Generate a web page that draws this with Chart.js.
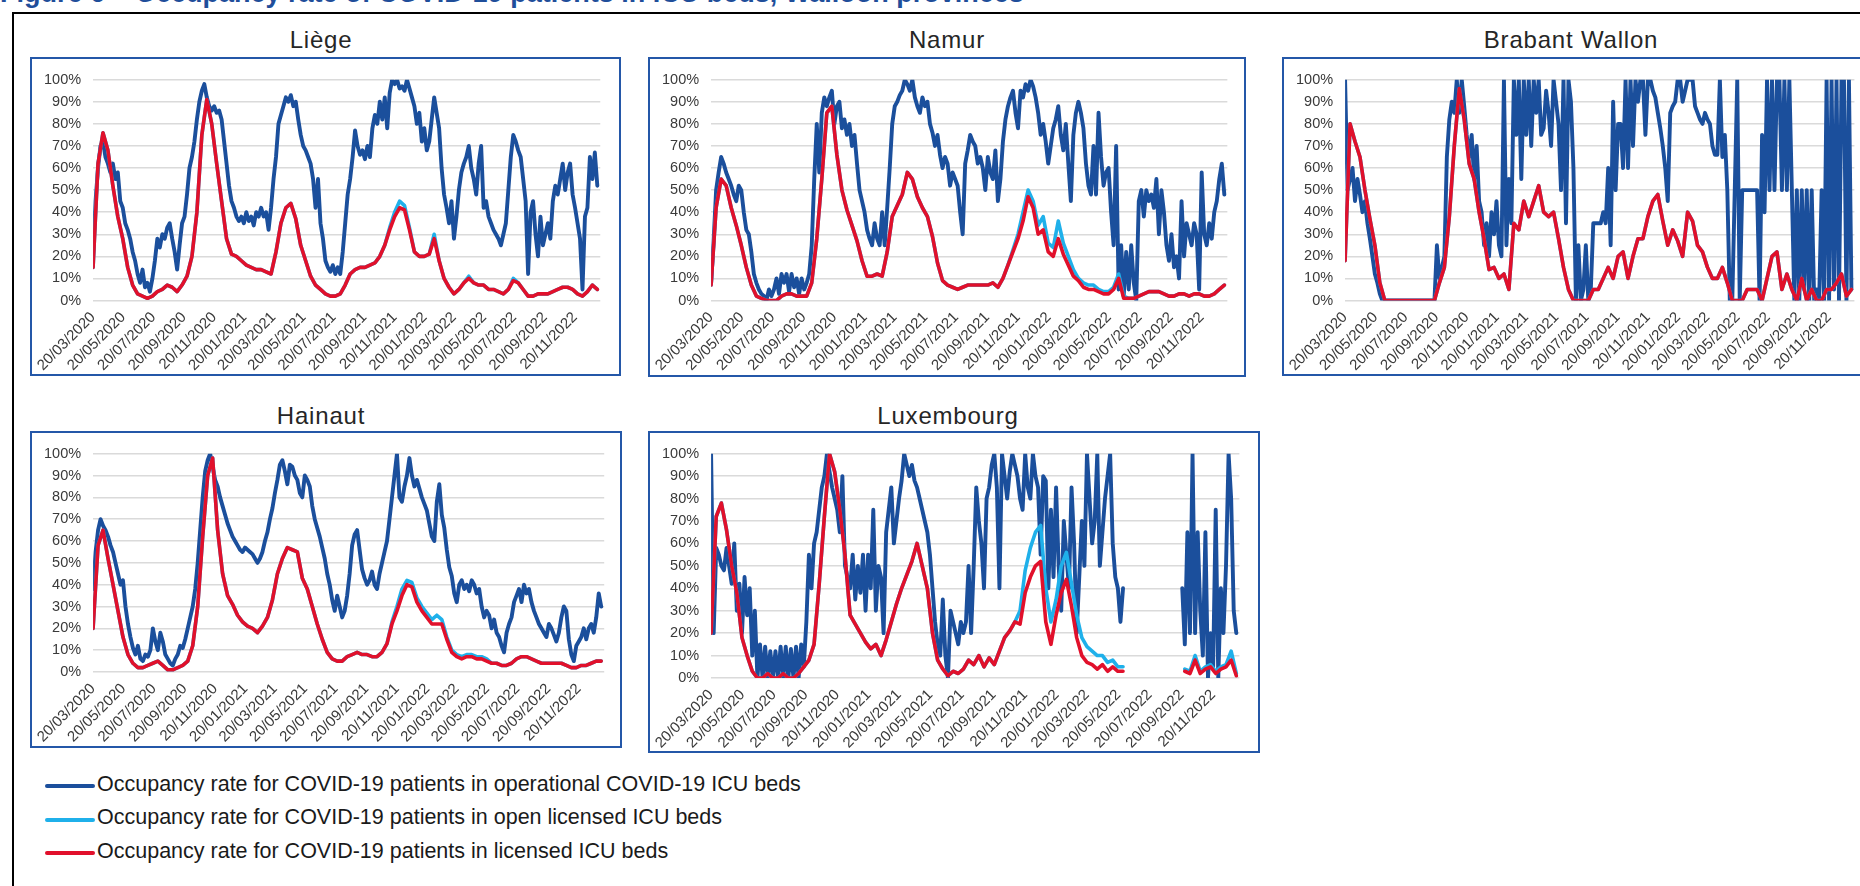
<!DOCTYPE html>
<html>
<head>
<meta charset="utf-8">
<title>Occupancy rate of COVID-19 patients in ICU beds, Walloon provinces</title>
<script src="https://cdn.jsdelivr.net/npm/chart.js@4.4.1/dist/chart.umd.min.js"></script>
<style>
  html, body { margin:0; padding:0; background:#fff; }
  body { width:1860px; height:886px; position:relative; overflow:hidden; font-family:"Liberation Sans", Arial, sans-serif; font-weight:400; }
  #figTitle { position:absolute; left:0; top:-20px; font-weight:bold; font-size:27px; line-height:27px; color:#1f4e9a; white-space:nowrap; }
  #frame { position:absolute; left:12px; top:12px; width:1900px; height:900px; border-left:2px solid #000; border-top:2px solid #000; }
  .pTitle { position:absolute; width:400px; text-align:center; font-family:"Liberation Sans", Arial, sans-serif; font-weight:400; font-size:24px; line-height:24px; letter-spacing:0.8px; color:#262626; white-space:nowrap; }
  .pBox { position:absolute; border:2px solid #2457a8; box-sizing:border-box; background:#fff; }
  .pBox canvas { position:absolute; left:0; top:0; }
  .legRow { position:absolute; left:45px; width:900px; height:30px; }
  .legLine { position:absolute; left:0; width:50px; height:4px; border-radius:2px; }
  .legText { position:absolute; left:52px; font-size:21.5px; line-height:22px; color:#1a1a1a; white-space:nowrap; font-weight:400; }
</style>
</head>
<body>
<div id="figTitle">Figure 6 – Occupancy rate of COVID-19 patients in ICU beds, Walloon provinces</div>
<div id="frame"></div>
<script>
// ---------------- DATA ----------------
const startDate = '20/03/2020';
const operationalStepDays = 5;   // blue series sampled every 5 days from startDate
const licensedStepDays = 10;     // red / light-blue series sampled every 10 days from startDate

const xTickLabels = ['20/03/2020','20/05/2020','20/07/2020','20/09/2020','20/11/2020','20/01/2021','20/03/2021','20/05/2021','20/07/2021','20/09/2021','20/11/2021','20/01/2022','20/03/2022','20/05/2022','20/07/2022','20/09/2022','20/11/2022'];

const legendLabels = [
  'Occupancy rate for COVID-19 patients in operational COVID-19 ICU beds',
  'Occupancy rate for COVID-19 patients in open licensed ICU beds',
  'Occupancy rate for COVID-19 patients in licensed ICU beds'
];

const panelTitles = ['Liège', 'Namur', 'Brabant Wallon', 'Hainaut', 'Luxembourg'];

// Liège
const liegeOperational = [
  20,45,60,70,72,65,62,58,62,55, 58,45,42,35,32,28,22,18,12,8,
  14,6,8,4,10,18,28,24,30,28, 33,35,28,22,14,25,35,38,48,60,
  65,72,82,90,95,98,92,88,86,88, 85,86,82,72,62,52,45,42,38,36,
  38,35,40,36,38,34,40,38,42,38, 40,32,42,55,65,80,84,88,92,90,
  93,88,90,82,75,70,68,65,62,55, 42,55,35,28,18,15,13,16,12,15,
  12,22,35,48,55,65,77,70,66,68, 64,70,65,78,84,80,90,82,92,78,
  94,100,98,100,96,97,95,100,96,92, 88,80,85,72,78,68,72,82,92,85,
  78,60,48,42,35,45,28,38,50,58, 62,65,70,60,55,48,62,70,42,45,
  38,35,32,30,28,25,30,35,50,65, 75,72,68,65,55,45,12,40,45,30,
  20,38,25,30,35,28,45,52,48,55, 62,50,58,62,48,42,35,28,5,38,
  42,65,55,67,52
];
const liegeOpenLicensed = [
  15,62,76,68,52,38,28,15,7,3, 2,1,2,4,5,7,6,4,7,11,
  20,40,75,91,80,62,45,28,21,20, 18,16,15,14,14,13,12,22,35,42,
  44,37,25,18,11,7,5,3,2,2, 3,7,12,14,15,15,16,17,20,25,
  33,40,45,43,33,22,20,20,21,30, 18,10,6,3,5,8,11,8,7,7,
  5,5,4,3,5,10,8,5,2,2, 3,3,3,4,5,6,6,5,3,2,
  4,7,5
];
const liegeLicensed = [
  15,62,76,68,52,38,28,15,7,3, 2,1,2,4,5,7,6,4,7,11,
  20,40,75,91,80,62,45,28,21,20, 18,16,15,14,14,13,12,22,35,42,
  44,37,25,18,11,7,5,3,2,2, 3,7,12,14,15,15,16,17,20,25,
  32,38,42,41,32,22,20,20,21,28, 18,10,6,3,5,8,10,8,7,7,
  5,5,4,3,5,9,8,5,2,2, 3,3,3,4,5,6,6,5,3,2,
  4,7,5
];

// Namur
const namurOperational = [
  8,27,50,58,65,62,58,55,52,48, 45,52,50,40,32,30,22,12,8,5,
  3,2,0,5,2,5,10,3,12,8, 12,4,12,6,10,3,10,5,8,12,
  25,55,80,58,85,92,88,92,95,80, 88,90,78,82,75,80,70,75,62,50,
  45,40,32,28,25,35,28,25,40,25, 42,60,80,88,90,93,95,100,98,95,
  100,92,88,85,92,88,90,80,76,70, 75,66,60,65,62,52,58,55,52,40,
  30,62,68,75,72,70,62,65,60,50, 65,58,55,68,45,55,72,82,88,92,
  95,85,78,95,92,98,95,100,97,92, 85,75,80,72,62,70,78,82,88,75,
  68,80,62,45,75,85,90,85,78,62, 52,48,70,48,85,65,52,58,60,40,
  25,70,5,25,2,22,5,25,8,0, 45,50,38,50,45,48,42,55,30,50,
  40,25,18,30,15,20,10,45,20,35, 30,25,35,30,5,58,30,25,35,28,
  40,45,55,62,48
];
const namurOpenLicensed = [
  7,42,55,52,42,34,25,15,7,2, 1,0,0,0,2,3,3,2,2,2,
  8,28,55,85,88,66,50,41,34,27, 18,11,11,12,11,22,38,43,48,58,
  55,47,42,38,29,17,9,7,6,5, 6,7,7,7,7,7,8,6,10,16,
  23,30,40,50,45,34,38,26,24,36, 26,20,14,10,8,7,7,5,4,4,
  6,12,2,1,1,2,3,4,4,4, 3,2,2,3,3,2,3,3,2,2,
  3,5,7
];
const namurLicensed = [
  7,42,55,52,42,34,25,15,7,2, 1,0,0,0,2,3,3,2,2,2,
  8,28,55,85,88,66,50,41,34,27, 18,11,11,12,11,22,38,43,48,58,
  55,47,42,38,29,17,9,7,6,5, 6,7,7,7,7,7,8,6,10,16,
  22,28,36,47,42,30,32,22,20,28, 21,16,11,9,6,5,5,4,3,3,
  5,10,1,1,1,2,3,4,4,4, 3,2,2,3,3,2,3,3,2,2,
  3,5,7
];

// Brabant Wallon
const brabantOperational = [
  100,50,55,60,45,55,48,40,45,35, 28,20,12,8,3,0,0,0,0,0,
  0,0,0,0,0,0,0,0,0,0, 0,0,0,0,0,0,0,25,10,15,
  20,65,82,90,85,100,85,100,88,75, 65,75,55,70,45,40,25,35,20,40,
  30,45,25,20,100,25,55,35,100,75, 100,55,100,75,100,70,100,85,100,75,
  78,95,85,70,100,90,80,50,100,35, 100,90,60,0,25,0,5,25,0,5,
  35,35,35,35,40,35,60,25,90,50, 80,80,60,100,60,100,70,100,90,100,
  100,75,100,100,95,92,85,78,70,60, 45,85,88,90,100,100,90,95,100,100,
  100,88,85,82,80,85,82,80,70,66, 66,100,65,75,50,0,0,50,100,0,
  50,50,50,50,50,50,50,0,75,40, 100,50,100,50,100,100,50,100,50,100,
  50,0,50,0,50,5,50,0,50,0, 5,0,50,0,100,0,100,5,100,0,
  100,100,0,100,5
];
const brabantOpenLicensed = [
  18,80,72,65,50,37,25,8,0,0, 0,0,0,0,0,0,0,0,0,8,
  15,38,70,96,82,62,55,40,28,14, 15,10,12,5,35,32,45,38,45,52,
  40,38,40,28,15,5,0,0,0,0, 5,5,10,15,10,20,22,10,20,28,
  28,38,45,48,36,25,32,27,20,40, 36,25,22,15,10,10,15,8,0,0,
  0,5,5,5,0,10,20,22,5,12, 5,0,10,0,5,0,0,5,5,8,
  12,2,5
];
const brabantLicensed = [
  18,80,72,65,50,37,25,8,0,0, 0,0,0,0,0,0,0,0,0,8,
  15,38,70,96,82,62,55,40,28,14, 15,10,12,5,35,32,45,38,45,52,
  40,38,40,28,15,5,0,0,0,0, 5,5,10,15,10,20,22,10,20,28,
  28,38,45,48,36,25,32,27,20,40, 36,25,22,15,10,10,15,8,0,0,
  0,5,5,5,0,10,20,22,5,12, 5,0,10,0,5,0,0,5,5,8,
  12,2,5
];

// Hainaut
const hainautOperational = [
  38,55,65,70,67,65,62,58,55,50, 45,40,42,30,22,16,11,8,12,6,
  5,8,7,10,20,14,10,18,14,8, 6,4,3,6,8,12,11,15,20,25,
  30,38,50,65,80,92,97,100,94,88, 85,80,76,72,68,65,62,60,58,56,
  55,57,56,55,54,52,50,52,55,60, 64,70,75,82,88,95,97,92,86,95,
  94,90,88,82,80,90,88,85,76,70, 66,62,57,52,45,40,33,28,35,30,
  25,28,35,45,58,63,65,56,47,43, 40,42,46,40,38,45,50,55,60,70,
  80,90,100,80,78,85,90,98,90,85, 88,84,80,77,74,68,62,60,78,86,
  72,66,56,48,44,36,32,40,42,38, 40,37,42,40,36,38,30,25,28,26,
  20,24,18,16,12,9,18,22,25,32, 35,38,32,40,36,38,32,28,25,22,
  20,18,16,22,20,17,14,18,25,30, 28,15,8,5,12,14,16,20,15,20,
  22,18,25,36,30
];
const hainautOpenLicensed = [
  20,58,65,52,40,28,16,8,4,2, 2,3,4,5,3,1,1,2,3,5,
  12,30,62,90,98,65,45,35,31,26, 23,21,20,18,21,25,33,45,52,57,
  56,55,43,38,30,22,15,9,6,5, 5,7,8,9,8,8,7,7,9,13,
  23,30,38,42,41,34,30,27,24,26, 24,16,10,8,7,8,8,7,7,6,
  4,4,3,3,4,6,7,7,6,5, 4,4,4,4,4,3,2,2,3,3,
  4,5,5
];
const hainautLicensed = [
  20,58,65,52,40,28,16,8,4,2, 2,3,4,5,3,1,1,2,3,5,
  12,30,62,90,98,65,45,35,31,26, 23,21,20,18,21,25,33,45,52,57,
  56,55,43,38,30,22,15,9,6,5, 5,7,8,9,8,8,7,7,9,13,
  22,28,35,40,39,32,28,25,22,22, 22,15,9,7,6,7,7,6,6,5,
  4,4,3,3,4,6,7,7,6,5, 4,4,4,4,4,3,2,2,3,3,
  4,5,5
];

// Luxembourg (no data reported between late May and mid September 2022)
const luxembourgOperational = [
  100,20,58,55,50,48,58,50,42,60, 30,42,20,45,28,40,10,30,0,15,
  0,14,0,12,0,12,0,14,0,14, 0,13,0,14,0,15,5,25,55,40,
  60,65,75,85,90,100,92,85,80,75, 65,90,50,45,40,55,35,50,38,55,
  30,55,40,75,30,50,45,20,65,75, 85,60,70,80,88,100,95,90,95,88,
  85,80,75,70,65,55,40,25,15,10, 35,10,0,30,25,20,15,25,20,25,
  50,20,50,85,70,60,40,80,85,95, 100,85,40,100,90,80,92,100,95,90,
  80,75,100,85,80,100,90,85,55,90, 88,40,75,45,85,50,30,70,55,40,
  85,60,20,45,70,50,100,80,60,70, 100,50,65,80,90,100,60,45,40,25,
  40,null,null,null,null,null,null,null,null,null, null,null,null,null,null,null,null,null,null,null,
  null,null,null,40,15,65,20,100,20,65, 30,10,65,0,20,5,75,0,40,20,
  50,100,80,30,20
];
const luxembourgOpenLicensed = [
  20,72,78,66,50,38,18,10,3,0, 0,2,0,0,2,0,0,2,5,8,
  15,42,72,100,92,75,55,28,24,20, 16,13,15,10,17,25,33,40,46,52,
  60,50,40,20,8,4,1,3,2,4, 8,6,10,5,9,6,12,18,21,25,
  30,48,58,65,68,40,25,35,50,56, 42,28,18,14,12,10,10,7,8,5,
  5,null,null,null,null,null,null,null,null,null, null,null,4,3,10,3,5,6,3,5,
  6,12,2
];
const luxembourgLicensed = [
  20,72,78,66,50,38,18,10,3,0, 0,2,0,0,2,0,0,2,5,8,
  15,42,72,100,92,75,55,28,24,20, 16,13,15,10,17,25,33,40,46,52,
  60,50,40,20,8,4,1,3,2,4, 8,6,10,5,9,6,12,18,21,25,
  24,38,45,50,52,25,15,28,38,44, 32,18,10,7,6,4,6,3,5,3,
  3,null,null,null,null,null,null,null,null,null, null,null,3,2,8,2,4,5,2,4,
  5,8,1
];

// ---------------- STYLE / LAYOUT ----------------
const COLOR_OPER = '#1b4f9c';
const COLOR_OPEN = '#1fb0ea';
const COLOR_LIC  = '#e1102b';
const FONT = "'Liberation Sans', Arial, sans-serif";

// box: [x, y, w, h]; plot: left, top, bottom; dataEnd: pixel of last sample
const panelLayout = [
  {box:[30,57,591,319],  plotL:90.4,   plotT:75.5, plotB:300.5, dataEnd:597.3,  titleX:321,  titleTop:28},
  {box:[648,57,598,320], plotL:707.5,  plotT:75.5, plotB:300.5, dataEnd:1224.3, titleX:947,  titleTop:28},
  {box:[1282,57,600,319],plotL:1342.2, plotT:75.5, plotB:300.5, dataEnd:1851.4, titleX:1571, titleTop:28},
  {box:[30,431,592,317], plotL:90.4,   plotT:446,  plotB:672,   dataEnd:601.2,  titleX:321,  titleTop:404},
  {box:[648,431,612,322],plotL:710,    plotT:446,  plotB:678,   dataEnd:1236.3, titleX:948,  titleTop:404}
];

const panelSeries = [
  [liegeOperational, liegeOpenLicensed, liegeLicensed],
  [namurOperational, namurOpenLicensed, namurLicensed],
  [brabantOperational, brabantOpenLicensed, brabantLicensed],
  [hainautOperational, hainautOpenLicensed, hainautLicensed],
  [luxembourgOperational, luxembourgOpenLicensed, luxembourgLicensed]
];

// ---------------- BUILD ----------------
function parseDMY(s) { const p = s.split('/').map(Number); return Date.UTC(p[2], p[1] - 1, p[0]); }
const t0 = parseDMY(startDate);
const tickDays = xTickLabels.map(s => Math.round((parseDMY(s) - t0) / 86400000));
const labelByDay = {};
tickDays.forEach((d, i) => { labelByDay[d] = xTickLabels[i]; });

function toPoints(arr, step) { return arr.map((v, i) => ({x: i * step, y: v})); }

const lastDay = (liegeOperational.length - 1) * operationalStepDays;
const xMaxDay = lastDay + 6;

Chart.defaults.font.family = FONT;

panelLayout.forEach((L, idx) => {
  const [bx, by, bw, bh] = L.box;
  const t = document.createElement('div');
  t.className = 'pTitle';
  t.style.left = (L.titleX - 200) + 'px';
  t.style.top = L.titleTop + 'px';
  t.textContent = panelTitles[idx];
  document.body.appendChild(t);

  const box = document.createElement('div');
  box.className = 'pBox';
  box.style.left = bx + 'px'; box.style.top = by + 'px';
  box.style.width = bw + 'px'; box.style.height = bh + 'px';
  document.body.appendChild(box);

  const cx = bx + 2, cy = by + 2, cw = bw - 4, ch = bh - 4;
  const cv = document.createElement('canvas');
  cv.width = cw; cv.height = ch;
  cv.style.width = cw + 'px'; cv.style.height = ch + 'px';
  box.appendChild(cv);

  const plotR = L.plotL + (L.dataEnd - L.plotL) * xMaxDay / lastDay;
  const padT = L.plotT - cy;
  const padR = (cx + cw) - plotR;
  const yW = L.plotL - cx;
  const xH = (cy + ch) - L.plotB;

  const [oper, open, lic] = panelSeries[idx];

  new Chart(cv, {
    type: 'line',
    data: {
      datasets: [
        {label: legendLabels[2], data: toPoints(lic, licensedStepDays), borderColor: COLOR_LIC, borderWidth: 3.6, order: 1},
        {label: legendLabels[1], data: toPoints(open, licensedStepDays), borderColor: COLOR_OPEN, borderWidth: 3.6, order: 2},
        {label: legendLabels[0], data: toPoints(oper, operationalStepDays), borderColor: COLOR_OPER, borderWidth: 3.9, order: 3}
      ]
    },
    options: {
      responsive: false,
      animation: false,
      devicePixelRatio: 1,
      events: [],
      spanGaps: false,
      elements: {
        line: {tension: 0, borderJoinStyle: 'round', borderCapStyle: 'round', fill: false},
        point: {radius: 0, hoverRadius: 0}
      },
      layout: {padding: {top: padT, right: padR, bottom: 0, left: 0}},
      plugins: {legend: {display: false}, tooltip: {enabled: false}, title: {display: false}},
      scales: {
        x: {
          type: 'linear', min: 0, max: xMaxDay,
          grid: {display: false, drawTicks: false},
          border: {display: false},
          afterBuildTicks: s => { s.ticks = tickDays.map(v => ({value: v})); },
          afterFit: s => { s.height = xH; },
          ticks: {
            autoSkip: false, maxRotation: 45, minRotation: 45, padding: 8,
            color: '#3a3a3a', font: {family: FONT, size: 15},
            callback: v => (labelByDay[v] !== undefined ? labelByDay[v] : '')
          }
        },
        y: {
          min: 0, max: 100,
          afterFit: s => { s.width = yW; },
          grid: {color: '#dadada', lineWidth: 1.5, drawTicks: false},
          border: {display: false},
          ticks: {stepSize: 10, padding: 12, color: '#3a3a3a', font: {family: FONT, size: 14.5}, callback: v => v + '%'}
        }
      }
    }
  });
});

// legend
const legendColors = [COLOR_OPER, COLOR_OPEN, COLOR_LIC];
const legendLineY = [786.5, 819.7, 853];
legendLabels.forEach((lab, i) => {
  const row = document.createElement('div');
  row.className = 'legRow';
  row.style.top = (legendLineY[i] - 13.45) + 'px';
  const ln = document.createElement('div');
  ln.className = 'legLine';
  ln.style.background = legendColors[i];
  ln.style.top = (13.45 - 2) + 'px';
  const tx = document.createElement('div');
  tx.className = 'legText';
  tx.style.top = '0px';
  tx.textContent = lab;
  row.appendChild(ln); row.appendChild(tx);
  document.body.appendChild(row);
});
</script>
</body>
</html>
